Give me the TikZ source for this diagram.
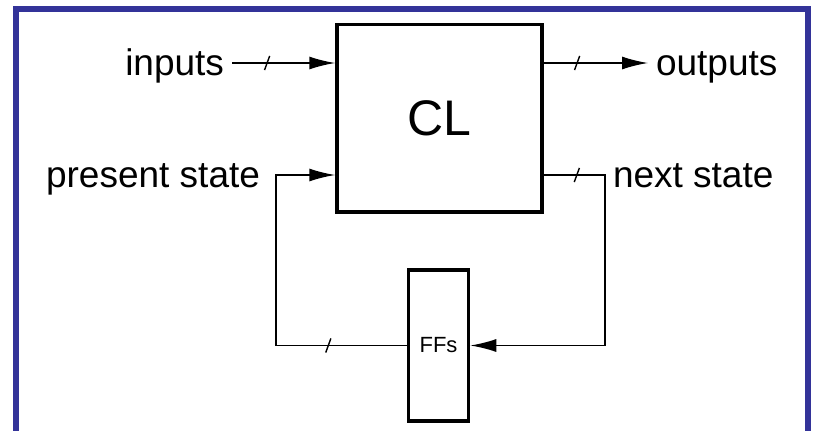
\documentclass[tikz,border=0pt]{standalone}
\usepackage{fontspec}
\setmainfont{Liberation Sans}
\usetikzlibrary{arrows.meta,calc,positioning}
\definecolor{frameblue}{RGB}{51,51,153}
\tikzset{
        block/.style = {draw, rectangle, line width=3.5pt, inner sep=0pt},
        lbl/.style = {inner sep=0pt, outer xsep=8pt,
            font=\fontsize{37}{40}\selectfont,
            text height=30pt, text depth=6pt},
        wire/.style = {draw, line width=1.6pt},
        arrow/.style = {wire, -{Latex[length=26pt,width=13pt]}},
        bus/.style = {draw, rectangle, line width=1.4pt, inner sep=0pt,
            minimum width=0pt, minimum height=15pt, rotate=-20},
    }
\begin{document}
\begin{tikzpicture}[x=1pt,y=1pt,yscale=-1]
\useasboundingbox (0,0) rectangle (814,431);

% frame
\draw[frameblue, line width=6pt] (16,440) -- (16,9) -- (808,9) -- (808,440);

% blocks
\node[block, minimum width=205pt, minimum height=187.5pt,
      font=\fontsize{50}{56}\selectfont] (cl) at (439.5,118.25) {CL};
\node[block, minimum width=60pt, minimum height=151pt,
      font=\fontsize{22}{24}\selectfont] (ffs) at (438.5,345.5) {FFs};

% loop corners
\coordinate (lcorner) at (276,175);
\coordinate (rcorner) at (605,175);

% labels
\node[lbl, anchor=east] (inputs) at (232,63) {inputs};
\node[lbl, anchor=west] (outputs) at (648,63) {outputs};
\node[lbl, left=8pt of lcorner] (pstate) {present state};
\node[lbl, right=0pt of rcorner] (nstate) {next state};

% wires
\draw[arrow] (inputs.east) -- node[bus, pos=.34] {} (inputs.east -| cl.west);
\draw[arrow] (cl.east |- outputs.west) -- node[bus, pos=.32] {} (outputs.west);
\draw[arrow] (ffs.west) -| node[bus, pos=.3] {} (lcorner) -- (lcorner -| cl.west);
\draw[arrow] (cl.east |- rcorner) -- node[bus, pos=.54] {} (rcorner) |- (ffs.east);

\end{tikzpicture}
\end{document}
